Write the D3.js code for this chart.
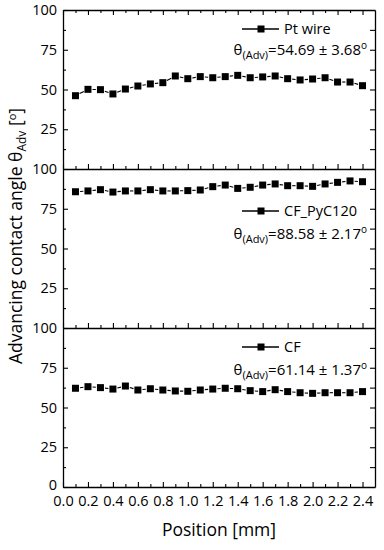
<!DOCTYPE html>
<html>
<head>
<meta charset="utf-8">
<script src="https://cdn.jsdelivr.net/npm/d3@7"></script>
<style>
  body { margin: 0; background: #fff; }
  svg { display: block; font-family: "Open Sans", sans-serif; }
</style>
</head>
<body>
<div id="chart"></div>
<script>
// Data
const positions = [0.1, 0.2, 0.3, 0.4, 0.5, 0.6, 0.7, 0.8, 0.9, 1.0, 1.1, 1.2,
                   1.3, 1.4, 1.5, 1.6, 1.7, 1.8, 1.9, 2.0, 2.1, 2.2, 2.3, 2.4];
const ptWire = [46.1, 50.1, 49.9, 47.2, 50.3, 52.2, 53.5, 54.3, 58.5, 56.8, 58.1, 57.4,
                58.1, 58.9, 57.4, 57.9, 58.5, 56.8, 56.0, 56.6, 57.4, 54.7, 54.7, 52.4];
const cfPyC120 = [85.7, 86.2, 87.0, 85.5, 86.2, 86.2, 87.0, 86.2, 86.2, 86.4, 86.8, 88.9,
                  89.9, 87.8, 88.5, 89.9, 90.6, 89.5, 89.5, 89.1, 90.6, 91.6, 92.5, 92.0];
const cf = [62.1, 63.1, 62.5, 61.6, 63.5, 61.0, 61.8, 61.0, 60.4, 60.2, 61.0, 61.6,
            62.1, 61.8, 60.6, 60.0, 61.2, 60.0, 59.3, 58.9, 59.3, 59.3, 59.3, 60.0];
const seriesNames = ['Pt wire', 'CF_PyC120', 'CF'];
const statMeans = ['54.69', '88.58', '61.14'];
const statErrs = ['3.68', '2.17', '1.37'];
const xTicks = [0.0, 0.2, 0.4, 0.6, 0.8, 1.0, 1.2, 1.4, 1.6, 1.8, 2.0, 2.2, 2.4];
const xMinorTicks = [0.1, 0.3, 0.5, 0.7, 0.9, 1.1, 1.3, 1.5, 1.7, 1.9, 2.1, 2.3];
const yTicks = [0, 25, 50, 75, 100];
const yMinorTicks = [12.5, 37.5, 62.5, 87.5];

const width = 384, height = 550;
const margin = {top: 10, right: 9, bottom: 63, left: 63};
const plotW = width - margin.left - margin.right;
const plotH = height - margin.top - margin.bottom;
const panelH = plotH / 3;

// legend placement inside each panel (relative to panel top)
const legendY = [19, 42, 19];
const statY = [45, 70, 47];

const svg = d3.select('#chart').append('svg')
    .attr('width', width)
    .attr('height', height);

const x = d3.scaleLinear().domain([0, 2.5]).range([margin.left, margin.left + plotW]);

const panels = [ptWire, cfPyC120, cf];

panels.forEach((values, p) => {
    const top = margin.top + p * panelH;
    const bottom = top + panelH;
    const y = d3.scaleLinear().domain([0, 100]).range([bottom, top]);
    const g = svg.append('g').attr('class', 'panel panel--' + p);

    // Bottom axis (ticks inward)
    const xAxis = g.append('g')
        .attr('transform', `translate(0,${bottom})`)
        .call(d3.axisBottom(x).tickValues(xTicks).tickSizeInner(-5).tickSizeOuter(0)
            .tickFormat(p === 2 ? d3.format('.1f') : ''));
    xAxis.append('g').call(d3.axisBottom(x).tickValues(xMinorTicks).tickSizeInner(-3).tickSizeOuter(0).tickFormat(''))
        .select('.domain').remove();

    // Top axis of first panel
    if (p === 0) {
        const tAxis = g.append('g')
            .attr('transform', `translate(0,${top})`)
            .call(d3.axisTop(x).tickValues(xTicks).tickSizeInner(-5).tickSizeOuter(0).tickFormat(''));
        tAxis.append('g').call(d3.axisTop(x).tickValues(xMinorTicks).tickSizeInner(-3).tickSizeOuter(0).tickFormat(''))
            .select('.domain').remove();
    }

    // Left axis
    const yLabels = p === 2 ? yTicks : yTicks.filter(d => d > 0);
    const lAxis = g.append('g')
        .attr('transform', `translate(${margin.left},0)`)
        .call(d3.axisLeft(y).tickValues(yLabels).tickSizeInner(-5).tickSizeOuter(0).tickPadding(6));
    lAxis.append('g').call(d3.axisLeft(y).tickValues(yMinorTicks).tickSizeInner(-3).tickSizeOuter(0).tickFormat(''))
        .select('.domain').remove();

    // Right axis
    const rAxis = g.append('g')
        .attr('transform', `translate(${margin.left + plotW},0)`)
        .call(d3.axisRight(y).tickValues(yTicks.filter(d => d > 0 && d < 100)).tickSizeInner(-5).tickSizeOuter(0).tickFormat(''));
    rAxis.append('g').call(d3.axisRight(y).tickValues(yMinorTicks).tickSizeInner(-5).tickSizeOuter(0).tickFormat(''))
        .select('.domain').remove();

    g.selectAll('.domain').attr('stroke', '#000').attr('stroke-width', 1.3);
    g.selectAll('.tick line').attr('stroke', '#000').attr('stroke-width', 1.1);
    g.selectAll('.tick text')
        .attr('fill', '#000')
        .style('font-size', '14.5px')
        .style('font-family', '"Open Sans", sans-serif');
    lAxis.selectAll('.tick text').attr('x', -6);
    if (p === 2) {
        xAxis.selectAll('.tick text').attr('y', 9);
        lAxis.selectAll('.tick text').filter(d => d === 0).attr('dy', '0.2em');
    }

    // Connecting line segments with gaps around markers
    const pts = positions.map((d, i) => [x(d), y(values[i])]);
    const gap = 4.6;
    const segs = d3.pairs(pts).map(([a, b]) => {
        const dx = b[0] - a[0], dy = b[1] - a[1];
        const len = Math.hypot(dx, dy);
        const ux = dx / len, uy = dy / len;
        return [[a[0] + ux * gap, a[1] + uy * gap], [b[0] - ux * gap, b[1] - uy * gap]];
    });
    g.selectAll('.seg').data(segs).enter().append('line')
        .attr('class', 'seg')
        .attr('x1', d => d[0][0]).attr('y1', d => d[0][1])
        .attr('x2', d => d[1][0]).attr('y2', d => d[1][1])
        .attr('stroke', '#000').attr('stroke-width', 1.1);

    // Square markers
    const ms = 7;
    g.selectAll('.pt').data(pts).enter().append('rect')
        .attr('class', 'pt')
        .attr('x', d => d[0] - ms / 2).attr('y', d => d[1] - ms / 2)
        .attr('width', ms).attr('height', ms)
        .attr('fill', '#000');

    // Legend
    const ly = top + legendY[p];
    g.append('line')
        .attr('x1', 242).attr('x2', 279).attr('y1', ly).attr('y2', ly)
        .attr('stroke', '#000').attr('stroke-width', 1.3);
    g.append('rect')
        .attr('x', 261 - ms / 2).attr('y', ly - ms / 2)
        .attr('width', ms).attr('height', ms).attr('fill', '#000');
    g.append('text')
        .attr('x', 284).attr('y', ly + 5)
        .style('font-size', '14.5px')
        .text(seriesNames[p]);

    // Stats text
    const st = g.append('text')
        .attr('x', 367).attr('y', top + statY[p])
        .attr('text-anchor', 'end')
        .style('font-size', '15px');
    st.append('tspan').text('θ');
    st.append('tspan').attr('dy', 4).style('font-size', '11px').text('(Adv)');
    st.append('tspan').attr('dy', -4).text(`=${statMeans[p]} ± ${statErrs[p]}`);
    st.append('tspan').attr('dy', -6).style('font-size', '10px').text('o');
});

// Axis titles
svg.append('text')
    .attr('x', margin.left + plotW / 2).attr('y', 536)
    .attr('text-anchor', 'middle')
    .style('font-size', '17.5px')
    .text('Position [mm]');

const yt = svg.append('text')
    .attr('transform', 'translate(22,236) rotate(-90)')
    .attr('text-anchor', 'middle')
    .style('font-size', '17.5px');
yt.append('tspan').text('Advancing contact angle θ');
yt.append('tspan').attr('dy', 4).style('font-size', '12px').text('Adv');
yt.append('tspan').attr('dy', -4).text(' [');
yt.append('tspan').attr('dy', -6).style('font-size', '11px').text('o');
yt.append('tspan').attr('dy', 6).text(']');
</script>
</body>
</html>
